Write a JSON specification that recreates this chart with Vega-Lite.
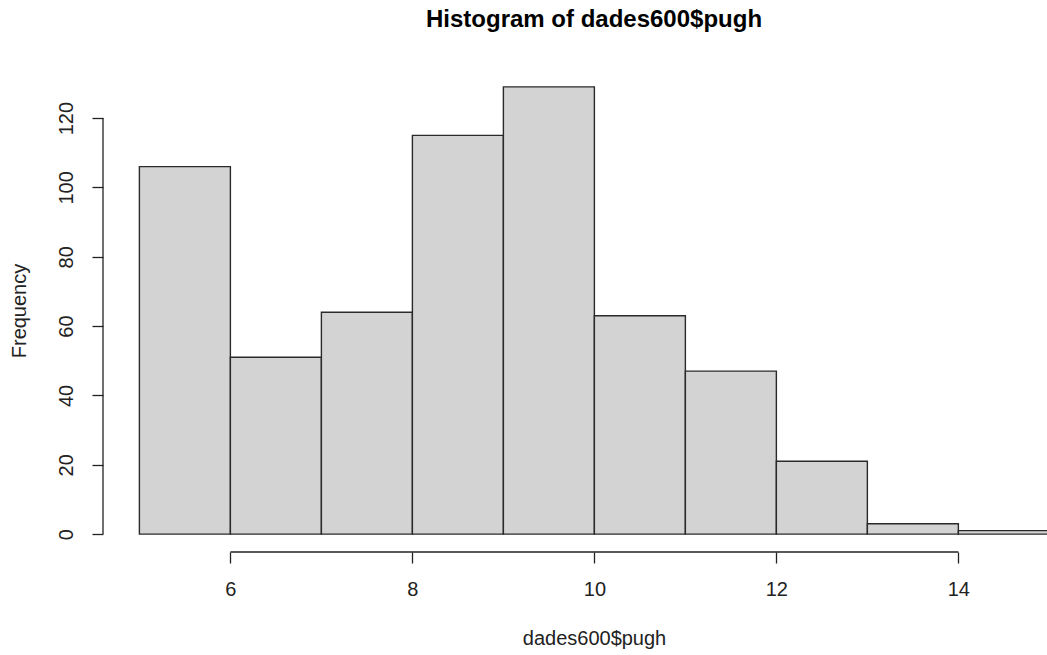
{
  "$schema": "https://vega.github.io/schema/vega-lite/v6.json",
  "autosize": "none",
  "padding": {"left": 103, "top": 69, "right": 0, "bottom": 103},
  "width": 944,
  "height": 483,
  "background": "white",
  "title": {
    "text": "Histogram of dades600$pugh",
    "font": "Liberation Sans",
    "fontSize": 24,
    "fontWeight": "bold",
    "color": "black",
    "anchor": "middle",
    "frame": "group",
    "dx": 19,
    "offset": 18,
    "baseline": "alphabetic"
  },
  "config": {
    "view": {"stroke": null},
    "axis": {
      "grid": false,
      "domain": false,
      "tickColor": "#222222",
      "tickWidth": 1.3,
      "tickSize": 11,
      "labelFont": "Liberation Sans",
      "labelFontSize": 20,
      "labelColor": "#222222",
      "titleFont": "Liberation Sans",
      "titleFontSize": 20,
      "titleFontWeight": "normal",
      "titleColor": "#222222"
    }
  },
  "datasets": {
    "bins": [
      {"start": 5, "end": 6, "count": 106},
      {"start": 6, "end": 7, "count": 51},
      {"start": 7, "end": 8, "count": 64},
      {"start": 8, "end": 9, "count": 115},
      {"start": 9, "end": 10, "count": 129},
      {"start": 10, "end": 11, "count": 63},
      {"start": 11, "end": 12, "count": 47},
      {"start": 12, "end": 13, "count": 21},
      {"start": 13, "end": 14, "count": 3},
      {"start": 14, "end": 15, "count": 1}
    ],
    "xaxisline": [{"start": 6, "end": 14}],
    "yaxisline": [{"lo": 0, "hi": 120}]
  },
  "layer": [
    {
      "data": {"name": "bins"},
      "mark": {"type": "bar", "fill": "#d3d3d3", "stroke": "#2a2a2a", "strokeWidth": 1.4, "clip": true, "cornerRadius": 0},
      "encoding": {
        "x": {
          "field": "start", "type": "quantitative",
          "scale": {"domain": [4.6, 14.974], "nice": false, "zero": false},
          "axis": {
            "values": [6, 8, 10, 12, 14],
            "format": "d",
            "labelPadding": 16,
            "title": "dades600$pugh",
            "titleX": 491,
            "titleY": 92,
            "titleAlign": "center",
            "titleBaseline": "alphabetic"
          }
        },
        "x2": {"field": "end"},
        "y": {
          "field": "count", "type": "quantitative", "stack": null,
          "scale": {"domain": [-5.16, 134.16], "nice": false, "zero": false},
          "axis": {
            "values": [0, 20, 40, 60, 80, 100, 120],
            "format": "d",
            "labelAngle": 270,
            "labelAlign": "center",
            "labelBaseline": "bottom",
            "labelPadding": 16,
            "title": "Frequency",
            "titleAngle": 270,
            "titleX": -78,
            "titleY": 241.5,
            "titleAlign": "center",
            "titleBaseline": "alphabetic"
          }
        },
        "y2": {"datum": 0}
      }
    },
    {
      "data": {"name": "xaxisline"},
      "mark": {"type": "rule", "color": "#222222", "strokeWidth": 1.3},
      "encoding": {
        "x": {"field": "start", "type": "quantitative", "title": "dades600$pugh"},
        "x2": {"field": "end"},
        "y": {"datum": -5.16, "type": "quantitative", "title": "Frequency"}
      }
    },
    {
      "data": {"name": "yaxisline"},
      "mark": {"type": "rule", "color": "#222222", "strokeWidth": 1.3},
      "encoding": {
        "x": {"datum": 4.6, "type": "quantitative", "title": "dades600$pugh"},
        "y": {"field": "lo", "type": "quantitative", "title": "Frequency"},
        "y2": {"field": "hi"}
      }
    }
  ]
}
